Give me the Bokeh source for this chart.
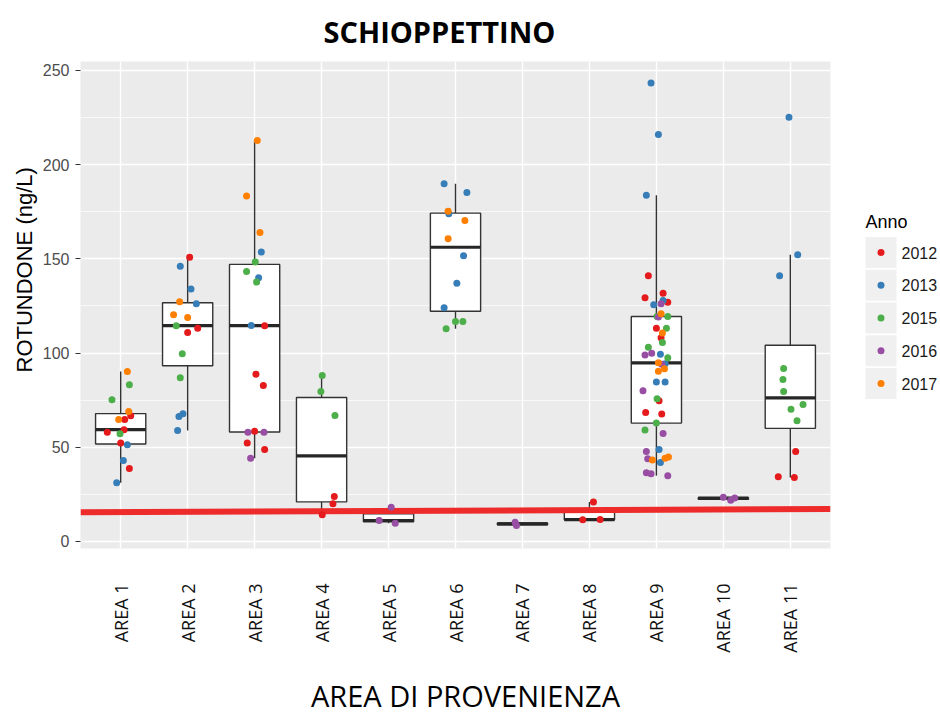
import numpy as np
from math import pi
from bokeh.plotting import figure
from bokeh.layouts import row, column
from bokeh.models import (ColumnDataSource, Range1d, FixedTicker, SingleIntervalTicker, Title)
from bokeh.core.properties import value
from bokeh.embed import file_html
from bokeh.resources import INLINE

# ---------------- data ----------------
areas = ["AREA 1", "AREA 2", "AREA 3", "AREA 4", "AREA 5", "AREA 6",
         "AREA 7", "AREA 8", "AREA 9", "AREA 10", "AREA 11"]
years = [2012, 2013, 2015, 2016, 2017]
year_colors = ["#E41A1C", "#377EB8", "#4DAF4A", "#984EA3", "#FF7F00"]
threshold = [15.5, 17.2]   # red reference line (left end, right end), ng/L

# (anno, rotundone ng/L) per area
a1 = [(2017, 90.2), (2015, 83.2), (2015, 75.2), (2017, 69.0), (2012, 66.7), (2017, 64.7), (2012, 64.7),
      (2012, 59.3), (2012, 58.0), (2015, 57.2), (2012, 52.2), (2013, 51.3), (2013, 43.0), (2012, 38.7),
      (2013, 31.1)]
a2 = [(2012, 150.9), (2013, 146.1), (2013, 134.0), (2017, 127.2), (2013, 126.2), (2017, 120.3),
      (2017, 118.9), (2015, 114.5), (2012, 113.2), (2012, 110.9), (2015, 99.6), (2015, 86.9),
      (2013, 67.8), (2013, 66.3), (2013, 58.9)]
a3 = [(2017, 212.8), (2017, 183.3), (2017, 164.0), (2013, 153.6), (2015, 148.3), (2015, 143.3),
      (2013, 140.0), (2015, 137.7), (2013, 114.6), (2012, 114.5), (2012, 88.8), (2012, 82.8),
      (2016, 58.0), (2012, 58.5), (2016, 58.0), (2012, 52.2), (2012, 48.8), (2016, 44.2)]
a4 = [(2015, 88.1), (2015, 79.6), (2015, 66.9), (2012, 23.9), (2012, 20.0), (2012, 14.2)]
a5 = [(2016, 18.2), (2016, 11.1), (2016, 9.7)]
a6 = [(2013, 189.9), (2013, 185.2), (2017, 175.3), (2013, 173.9), (2017, 170.4), (2017, 160.7),
      (2013, 151.6), (2013, 137.1), (2013, 124.0), (2015, 116.8), (2015, 116.8), (2015, 112.9)]
a7 = [(2016, 10.2), (2016, 8.4)]
a8 = [(2012, 20.9), (2012, 11.5), (2012, 11.6)]
a9 = [(2013, 243.3), (2013, 216.0), (2013, 183.7), (2012, 141.0), (2012, 131.8), (2012, 129.3),
      (2012, 126.9), (2016, 126.2), (2013, 127.9), (2013, 125.6), (2017, 120.9), (2015, 119.4),
      (2016, 119.1), (2015, 119.4), (2012, 113.2), (2015, 113.2), (2017, 110.6), (2012, 108.1),
      (2015, 105.6), (2015, 103.1), (2016, 98.9), (2016, 99.9), (2013, 99.3), (2015, 97.5),
      (2017, 94.8), (2016, 94.0), (2013, 94.3), (2017, 91.7), (2017, 90.4), (2013, 84.6),
      (2013, 84.6), (2016, 80.0), (2015, 75.7), (2012, 74.7), (2012, 68.5), (2012, 67.6),
      (2015, 62.8), (2015, 59.1), (2016, 57.3), (2013, 48.8), (2016, 47.8), (2016, 43.9),
      (2017, 43.2), (2013, 41.9), (2017, 44.1), (2017, 44.8), (2016, 36.5), (2016, 35.9),
      (2016, 34.9)]
a10 = [(2016, 23.5), (2016, 21.8), (2016, 23.0)]
a11 = [(2013, 225.2), (2013, 152.2), (2013, 141.0), (2015, 91.8), (2015, 86.0), (2015, 79.6),
       (2015, 72.7), (2015, 70.1), (2015, 64.1), (2012, 47.8), (2012, 34.3), (2012, 34.0)]
area_points = [a1, a2, a3, a4, a5, a6, a7, a8, a9, a10, a11]

# ---------------- layout (jitter offsets, in category units) ----------------
jitter = [
    [0.10, 0.13, -0.13, 0.12, 0.15, -0.03, 0.06, 0.05, -0.20, -0.01, 0.0, 0.10, 0.04, 0.13, -0.06],
    [0.03, -0.11, 0.05, -0.12, 0.13, -0.21, 0.0, -0.17, 0.15, 0.0, -0.08, -0.11, -0.07, -0.13, -0.15],
    [0.04, -0.12, 0.08, 0.10, 0.01, -0.12, 0.06, 0.03, -0.05, 0.15, 0.02, 0.13, -0.10, 0.0, 0.14,
     -0.11, 0.15, -0.06],
    [0.01, -0.01, 0.20, 0.19, 0.17, 0.01],
    [0.04, -0.14, 0.10],
    [-0.17, 0.17, -0.11, -0.10, 0.14, -0.11, 0.12, 0.02, -0.17, 0.0, 0.11, -0.14],
    [-0.11, -0.09],
    [0.06, -0.10, 0.16],
    [-0.08, 0.03, -0.15, -0.12, 0.10, -0.17, 0.17, 0.07, 0.10, -0.04, 0.07, 0.01, 0.03, 0.17, 0.0,
     0.15, 0.09, 0.07, 0.09, -0.12, -0.17, -0.07, 0.06, 0.17, 0.03, 0.08, 0.13, 0.12, 0.03, 0.0,
     0.13, -0.20, 0.01, 0.04, -0.16, 0.08, 0.0, -0.17, 0.10, 0.04, -0.15, -0.13, -0.06, 0.06, 0.13,
     0.18, -0.15, -0.08, 0.17],
    [0.0, 0.11, 0.17],
    [-0.02, 0.11, -0.16, -0.10, -0.11, -0.10, 0.19, 0.01, 0.10, 0.08, -0.18, 0.06],
]

# ---------------- box statistics (ggplot style) ----------------
xpos = np.arange(1, len(areas) + 1, dtype=float)
q1s, meds, q3s, wlos, whis = [], [], [], [], []
for pts in area_points:
    v = np.array([val for _, val in pts])
    q1, med, q3 = np.percentile(v, [25, 50, 75])
    iqr = q3 - q1
    q1s.append(q1); meds.append(med); q3s.append(q3)
    whis.append(v[v <= q3 + 1.5 * iqr].max())
    wlos.append(v[v >= q1 - 1.5 * iqr].min())

BOX_HALF = 0.375
box_src = ColumnDataSource(dict(x=xpos, left=xpos - BOX_HALF, right=xpos + BOX_HALF,
                                q1=q1s, med=meds, q3=q3s, wlo=wlos, whi=whis))

# ---------------- page geometry ----------------
PAGE_W, PAGE_H = 940, 717
PW = 850                      # main figure width; legend strip takes the rest
RH = 50                       # bottom strip holding the x-axis title
TOP_H = PAGE_H - RH
FL, FT, FW, FH = 80, 61, 750, 487
FB = TOP_H - FT - FH          # bottom border of the main figure
XR = (0.4, 11.6)

# ---------------- main figure ----------------
p = figure(width=PW, height=TOP_H, x_range=Range1d(*XR), y_range=Range1d(-3.75, 254.75),
           output_backend="svg", toolbar_location=None,
           min_border_left=FL, min_border_top=FT,
           min_border_right=PW - FL - FW, min_border_bottom=FB)
p.background_fill_color = "#EBEBEB"
p.border_fill_color = "white"
p.outline_line_color = None

p.title.text = "SCHIOPPETTINO"
p.title.align = "left"
p.title.offset = 243
p.title.standoff = 20
p.title.vertical_align = "middle"
p.title.text_font = "Open Sans"
p.title.text_font_style = "bold"
p.title.text_font_size = "29px"
p.title.text_color = "#000000"

# axes
p.xaxis.ticker = FixedTicker(ticks=list(xpos))
p.xaxis.major_label_overrides = {i + 1: a for i, a in enumerate(areas)}
p.xaxis.major_label_orientation = pi / 2
p.xaxis.major_label_text_font = "Open Sans"
p.xaxis.major_label_text_font_size = "18px"
p.xaxis.major_label_text_color = "#111111"
p.xaxis.major_tick_line_color = None
p.xaxis.major_tick_out = 0
p.xaxis.major_tick_in = 0
p.xaxis.minor_tick_line_color = None
p.xaxis.axis_line_color = None
p.xaxis.major_label_standoff = 35

p.yaxis.ticker = SingleIntervalTicker(interval=50, num_minor_ticks=2)
p.yaxis.major_label_text_font = "Liberation Sans"
p.yaxis.major_label_text_font_size = "16px"
p.yaxis.major_label_text_color = "#4D4D4D"
p.yaxis.major_tick_line_color = "#333333"
p.yaxis.major_tick_out = 5
p.yaxis.major_tick_in = 0
p.yaxis.minor_tick_line_color = None
p.yaxis.axis_line_color = None
p.yaxis.major_label_standoff = 6

p.xgrid.grid_line_color = "white"
p.xgrid.grid_line_width = 1.4
p.ygrid.grid_line_color = "white"
p.ygrid.grid_line_width = 1.4
p.ygrid.minor_grid_line_color = "white"
p.ygrid.minor_grid_line_width = 0.7

# y-axis title as a side title (placed off-centre like the reference)
p.add_layout(Title(text="ROTUNDONE  (ng/L)", align="left", offset=176, standoff=6,
                   text_font="Liberation Sans", text_font_size="22px",
                   text_font_style="normal", text_color="#000000"), "left")

# boxplots
p.segment(x0="x", y0="q3", x1="x", y1="whi", source=box_src, line_color="#333333", line_width=1.4)
p.segment(x0="x", y0="q1", x1="x", y1="wlo", source=box_src, line_color="#333333", line_width=1.4)
p.quad(left="left", right="right", bottom="q1", top="q3", source=box_src,
       fill_color="white", line_color="#333333", line_width=1.4)
p.segment(x0="left", y0="med", x1="right", y1="med", source=box_src,
          line_color="#262626", line_width=3.2)

# red reference line
p.segment(x0=[XR[0]], y0=[threshold[0]], x1=[XR[1]], y1=[threshold[1]],
          line_color="#EE2B2B", line_width=6)

# jittered points per year
for yr, col in zip(years, year_colors):
    xs, ys = [], []
    for i, (pts, jit) in enumerate(zip(area_points, jitter)):
        for (y_, v), j in zip(pts, jit):
            if y_ == yr:
                xs.append(i + 1 + j)
                ys.append(v)
    p.scatter(x=xs, y=ys, size=7, fill_color=col, line_color=None)

# ---------------- legend strip (pixel-like coordinates) ----------------
LW = PAGE_W - PW
q = figure(width=LW, height=TOP_H, x_range=Range1d(PW, PAGE_W), y_range=Range1d(FT + FH, FT),
           output_backend="svg", toolbar_location=None,
           x_axis_location=None, y_axis_location=None,
           min_border_left=0, min_border_right=0, min_border_top=FT, min_border_bottom=FB)
q.grid.visible = False
q.outline_line_color = None
q.background_fill_color = "white"
q.border_fill_color = "white"

KEY_X, KEY_SIZE, KEY_TOP, KEY_PITCH = 880.5, 31, 252.0, 32.75
key_y = [KEY_TOP + k * KEY_PITCH for k in range(len(years))]
leg_src = ColumnDataSource(dict(y=key_y, color=year_colors, label=[str(y) for y in years]))
q.rect(x=KEY_X, y="y", width=KEY_SIZE, height=KEY_SIZE, source=leg_src,
       fill_color="#F0F0F0", line_color=None)
q.scatter(x=KEY_X, y="y", size=7, fill_color="color", line_color=None, source=leg_src)
q.text(x=KEY_X + 20.5, y="y", text="label", source=leg_src, text_baseline="middle",
       text_align="left", text_font=value("Liberation Sans"), text_font_size="16px",
       text_color="#1A1A1A")
q.text(x=[KEY_X - 15.5], y=[KEY_TOP - 31], text=["Anno"], text_baseline="middle",
       text_align="left", text_font=value("Liberation Sans"), text_font_size="18px",
       text_color="#000000")

# ---------------- bottom strip with the x-axis title ----------------
r = figure(width=PAGE_W, height=RH, x_range=Range1d(FL, FL + FW), y_range=Range1d(PAGE_H, TOP_H),
           output_backend="svg", toolbar_location=None,
           x_axis_location=None, y_axis_location=None,
           min_border_left=FL, min_border_right=PAGE_W - FL - FW, min_border_top=0, min_border_bottom=0)
r.grid.visible = False
r.outline_line_color = None
r.background_fill_color = "white"
r.border_fill_color = "white"
r.text(x=[465], y=[695], text=["AREA DI PROVENIENZA"], text_align="center", text_baseline="middle",
       text_font=value("Open Sans"), text_font_size="29px", text_color="#000000")

layout = column(row(p, q), r)
open("out.html", "w").write(file_html(layout, INLINE))
